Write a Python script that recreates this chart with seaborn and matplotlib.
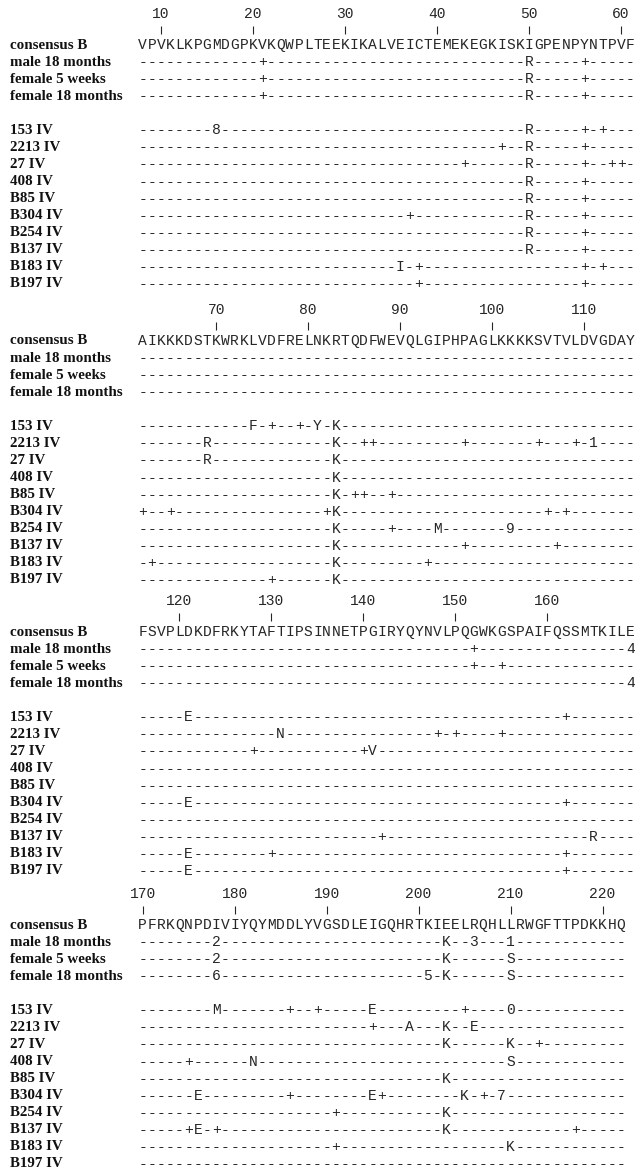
import numpy as np
import matplotlib.pyplot as plt
import seaborn as sns
from matplotlib.colors import ListedColormap

# residue numbering of the first column of each block
block_starts = [8, 62, 116, 170]

consensus = [
    "VPVKLKPGMDGPKVKQWPLTEEKIKALVEICTEMEKEGKISKIGPENPYNTPVF",
    "AIKKKDSTKWRKLVDFRELNKRTQDFWEVQLGIPHPAGLKKKKSVTVLDVGDAY",
    "FSVPLDKDFRKYTAFTIPSINNETPGIRYQYNVLPQGWKGSPAIFQSSMTKILE",
    "PFRKQNPDIVIYQYMDDLYVGSDLEIGQHRTKIEELRQHLLRWGFTTPDKKHQ",
]

tick_positions = [
    [10, 20, 30, 40, 50, 60],
    [70, 80, 90, 100, 110],
    [120, 130, 140, 150, 160],
    [170, 180, 190, 200, 210, 220],
]

reference_rows = ["male 18 months", "female 5 weeks", "female 18 months"]
isolate_rows = ["153 IV", "2213 IV", "27 IV", "408 IV", "B85 IV",
                "B304 IV", "B254 IV", "B137 IV", "B183 IV", "B197 IV"]

# (residue, symbol) differences from consensus B, one dict per block
changes_1 = {
    "male 18 months": [(21, "+"), (50, "R"), (56, "+")],
    "female 5 weeks": [(21, "+"), (50, "R"), (56, "+")],
    "female 18 months": [(21, "+"), (50, "R"), (56, "+")],
    "153 IV": [(16, "8"), (50, "R"), (56, "+"), (58, "+")],
    "2213 IV": [(47, "+"), (50, "R"), (56, "+")],
    "27 IV": [(43, "+"), (50, "R"), (56, "+"), (59, "+"), (60, "+")],
    "408 IV": [(50, "R"), (56, "+")],
    "B85 IV": [(50, "R"), (56, "+")],
    "B304 IV": [(37, "+"), (50, "R"), (56, "+")],
    "B254 IV": [(50, "R"), (56, "+")],
    "B137 IV": [(50, "R"), (56, "+")],
    "B183 IV": [(36, "I"), (38, "+"), (56, "+"), (58, "+")],
    "B197 IV": [(38, "+"), (56, "+")],
}

changes_2 = {
    "153 IV": [(74, "F"), (76, "+"), (79, "+"), (81, "Y"), (83, "K")],
    "2213 IV": [(69, "R"), (83, "K"), (86, "+"), (87, "+"), (97, "+"),
                (105, "+"), (109, "+"), (111, "1")],
    "27 IV": [(69, "R"), (83, "K")],
    "408 IV": [(83, "K")],
    "B85 IV": [(83, "K"), (85, "+"), (86, "+"), (89, "+")],
    "B304 IV": [(62, "+"), (65, "+"), (82, "+"), (83, "K"), (106, "+"), (108, "+")],
    "B254 IV": [(83, "K"), (89, "+"), (94, "M"), (102, "9")],
    "B137 IV": [(83, "K"), (97, "+"), (107, "+")],
    "B183 IV": [(63, "+"), (83, "K"), (93, "+")],
    "B197 IV": [(76, "+"), (83, "K")],
}

changes_3 = {
    "male 18 months": [(152, "+"), (169, "4")],
    "female 5 weeks": [(152, "+"), (155, "+")],
    "female 18 months": [(169, "4")],
    "153 IV": [(121, "E"), (162, "+")],
    "2213 IV": [(131, "N"), (148, "+"), (150, "+"), (155, "+")],
    "27 IV": [(128, "+"), (140, "+"), (141, "V")],
    "B304 IV": [(121, "E"), (162, "+")],
    "B137 IV": [(142, "+"), (165, "R")],
    "B183 IV": [(121, "E"), (130, "+"), (162, "+")],
    "B197 IV": [(121, "E"), (162, "+")],
}

changes_4 = {
    "male 18 months": [(178, "2"), (203, "K"), (206, "3"), (210, "1")],
    "female 5 weeks": [(178, "2"), (203, "K"), (210, "S")],
    "female 18 months": [(178, "6"), (201, "5"), (203, "K"), (210, "S")],
    "153 IV": [(178, "M"), (186, "+"), (189, "+"), (195, "E"), (205, "+"), (210, "0")],
    "2213 IV": [(195, "+"), (199, "A"), (203, "K"), (206, "E")],
    "27 IV": [(203, "K"), (210, "K"), (213, "+")],
    "408 IV": [(175, "+"), (182, "N"), (210, "S")],
    "B85 IV": [(203, "K")],
    "B304 IV": [(176, "E"), (186, "+"), (195, "E"), (196, "+"), (205, "K"),
                (207, "+"), (209, "7")],
    "B254 IV": [(191, "+"), (203, "K")],
    "B137 IV": [(175, "+"), (176, "E"), (178, "+"), (203, "K"), (217, "+")],
    "B183 IV": [(191, "+"), (210, "K")],
    "B197 IV": [],
}

all_changes = [changes_1, changes_2, changes_3, changes_4]

N_COLS = 54
ROW_PX = 17.07
CHAR_PX = 9.2
FIG_W, FIG_H = 639, 1168
LEFT_PX = 138
consensus_y_px = [45, 341, 632, 925]

row_labels = ["consensus B"] + reference_rows + [""] + isolate_rows


def build_grid(start, seq, changes):
    grid = []
    grid.append(list(seq) + [""] * (N_COLS - len(seq)))
    for name in row_labels[1:]:
        if name == "":
            grid.append([""] * N_COLS)
            continue
        row = ["-"] * len(seq) + [""] * (N_COLS - len(seq))
        for pos, sym in changes.get(name, []):
            row[pos - start] = sym
        grid.append(row)
    return np.array(grid, dtype=object)


sns.set_theme(style="white")
plt.rcParams["font.family"] = ["Liberation Serif", "DejaVu Serif"]

fig = plt.figure(figsize=(FIG_W / 100, FIG_H / 100), dpi=100)
mono = dict(family="Liberation Mono", size=10.5, color="#262626")

for start, seq, ticks, changes, cy in zip(block_starts, consensus, tick_positions,
                                          all_changes, consensus_y_px):
    n_rows = len(row_labels)
    top_px = cy - ROW_PX / 2
    h_px = n_rows * ROW_PX
    ax = fig.add_axes([LEFT_PX / FIG_W, 1 - (top_px + h_px) / FIG_H,
                       N_COLS * CHAR_PX / FIG_W, h_px / FIG_H])
    annot = build_grid(start, seq, changes)
    sns.heatmap(np.zeros(annot.shape), annot=annot, fmt="", cbar=False,
                cmap=ListedColormap(["white"]), xticklabels=False,
                yticklabels=row_labels, annot_kws=mono, ax=ax)
    ax.tick_params(axis="y", length=0, pad=128 * 72 / 100)
    for lab in ax.get_yticklabels():
        lab.set_rotation(0)
        lab.set_ha("left")
        lab.set_fontweight("bold")
        lab.set_fontsize(10.8)
        lab.set_color("#111111")
    cols = np.array(ticks) - start + 0.5
    for c, p in zip(cols, ticks):
        ax.text(c, -1.32, str(p), ha="center", va="center", clip_on=False, **mono)
    ax.vlines(cols, -0.62, -0.15, colors="#262626", lw=0.8, clip_on=False)

fig.savefig("out.png", dpi=100)
